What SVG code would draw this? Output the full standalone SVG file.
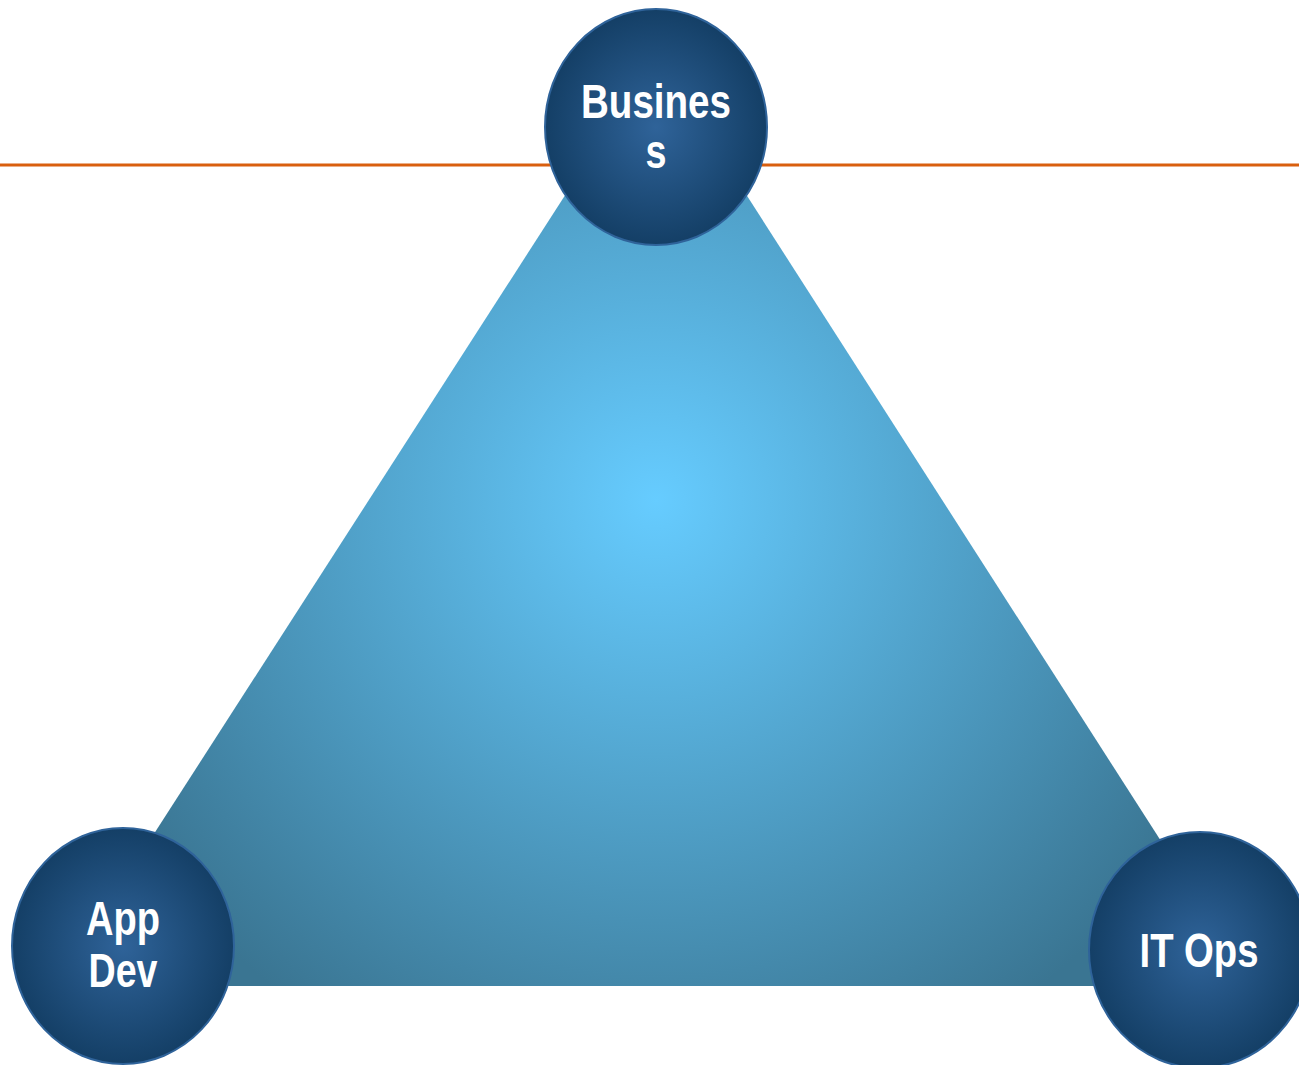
<svg xmlns="http://www.w3.org/2000/svg" width="1299" height="1065" viewBox="0 0 1299 1065">
<style>
.lbl{font-family:"Liberation Sans",Arial,sans-serif;font-weight:bold;font-size:48px;fill:#ffffff;text-anchor:middle}
.node{stroke:#2F639A;stroke-width:2}
</style>
<defs>
<radialGradient id="tri" gradientUnits="userSpaceOnUse" cx="656" cy="500" r="620">
<stop offset="0" stop-color="#66CCFF"/>
<stop offset="1" stop-color="#3A7592"/>
</radialGradient>
<radialGradient id="ball" cx="0.5" cy="0.5" r="0.5">
<stop offset="0" stop-color="#2F6399"/>
<stop offset="1" stop-color="#143F66"/>
</radialGradient>
</defs>
<rect width="1299" height="1065" fill="#ffffff"/>
<g id="connectors">
<line x1="0" y1="165" x2="1299" y2="165" stroke="#D95F0E" stroke-width="3"/>
<polygon points="656,54 1254,986 56,986" fill="url(#tri)"/>
</g>
<g id="business">
<ellipse class="node" cx="656" cy="127" rx="111" ry="118" fill="url(#ball)"/>
<text class="lbl" x="656" y="118" textLength="150" lengthAdjust="spacingAndGlyphs">Busines</text>
<text class="lbl" x="656" y="168" textLength="21" lengthAdjust="spacingAndGlyphs">s</text>
</g>
<g id="appdev">
<ellipse class="node" cx="123" cy="946" rx="111" ry="118" fill="url(#ball)"/>
<text class="lbl" x="123" y="935" textLength="74" lengthAdjust="spacingAndGlyphs">App</text>
<text class="lbl" x="123" y="987" textLength="69" lengthAdjust="spacingAndGlyphs">Dev</text>
</g>
<g id="itops">
<ellipse class="node" cx="1200" cy="950" rx="111" ry="118" fill="url(#ball)"/>
<text class="lbl" x="1199" y="967" textLength="119" lengthAdjust="spacingAndGlyphs">IT Ops</text>
</g>
</svg>
